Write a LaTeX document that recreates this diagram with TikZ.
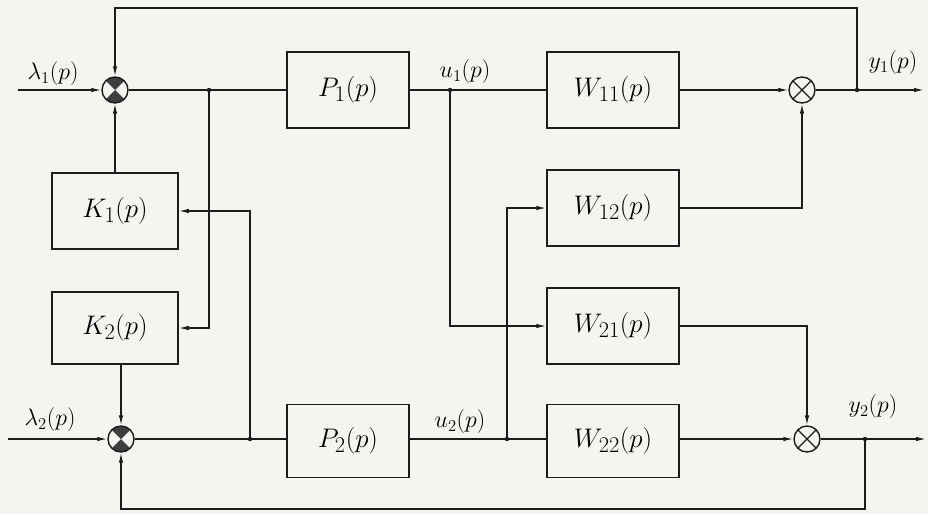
\documentclass[tikz,border=0pt]{standalone}
\usepackage{amsmath, amssymb}
\usepackage{xcolor}
\usepackage{tikz}
\usetikzlibrary{arrows.meta, calc}
\definecolor{ink}{HTML}{1C1C1C}
\definecolor{paper}{HTML}{F4F4F1}

\tikzset{
  blk/.style={draw=ink, line width=1.5pt, minimum width=126pt,
              minimum height=76pt, inner sep=0pt,
              font=\fontsize{24.88}{30}\selectfont},
  wblk/.style={blk, minimum width=132pt},
  multnode/.style={circle, draw=ink, line width=1.4pt, minimum size=26pt,
              inner sep=0pt, path picture={
      \draw[ink, line width=1.2pt]
        (path picture bounding box.north west) -- (path picture bounding box.south east)
        (path picture bounding box.south west) -- (path picture bounding box.north east);}},
  sumnode/.style={multnode, path picture={
      \fill[ink!85] (path picture bounding box.center)
        -- (path picture bounding box.north west)
        -- (path picture bounding box.north east) -- cycle;
      \fill[ink!85] (path picture bounding box.center)
        -- (path picture bounding box.south west)
        -- (path picture bounding box.south east) -- cycle;}},
  sig/.style={draw=ink, line width=1.3pt},
  arr/.style={sig, -{Latex[length=10pt, width=4.5pt]}},
  lbl/.style={inner sep=0pt, font=\fontsize{20.74}{25}\selectfont}
}

\begin{document}
\begin{tikzpicture}[x=1pt, y=-1pt]
    \fill[paper] (0,0) rectangle (928,514);
    \useasboundingbox (0,0) rectangle (928,514);

    \node[sumnode] (s1) at (115,90) {};
    \node[sumnode] (s2) at (121,439) {};
    \node[blk] (k1) at (115,211) {\scalebox{1.08}{$K_1(p)$}};
    \node[blk, minimum height=72pt] (k2) at (115,328) {\scalebox{1.08}{$K_2(p)$}};
    \node[blk, minimum width=122pt] (p1) at (348,90) {\scalebox{1.08}{$P_1(p)$}};
    \node[blk, minimum width=122pt, minimum height=73pt] (p2) at (348,441) {\scalebox{1.08}{$P_2(p)$}};
    \node[wblk] (w11) at (613,90) {\scalebox{1.08}{$W_{11}(p)$}};
    \node[wblk] (w12) at (613,208) {\scalebox{1.08}{$W_{12}(p)$}};
    \node[wblk] (w21) at (613,326) {\scalebox{1.08}{$W_{21}(p)$}};
    \node[wblk, minimum height=73pt] (w22) at (613,441) {\scalebox{1.08}{$W_{22}(p)$}};
    \node[multnode] (m1) at (802,90) {};
    \node[multnode] (m2) at (807,439) {};

    \coordinate (in1) at (18,90);
    \coordinate (in2) at (8,439);
    \coordinate (b1) at (209,90);
    \coordinate (b2) at (250,439);
    \coordinate (u1) at (450,90);
    \coordinate (u2) at (507,439);
    \coordinate (c1) at (857,90);
    \coordinate (c2) at (865,439);
    \coordinate (out1) at (924,90);
    \coordinate (out2) at (926,439);
    \coordinate (top) at (857,8);
    \coordinate (bot) at (865,509);

    \draw[arr] (in1) -- (s1);
    \draw[arr] (in2) -- (s2);
    \draw[sig] (s1) -- (p1);
    \draw[sig] (s2) -- (p2.west |- s2);
    \draw[sig] (p1) -- (w11);
    \draw[sig] (p2.east |- s2) -- (w22.west |- s2);
    \draw[arr] (b1) |- (k2);
    \draw[arr] (b2) |- (k1);
    \draw[arr] (k1) -- (s1);
    \draw[arr] (k2.south -| s2) -- (s2);
    \draw[arr] (u1) |- (w21);
    \draw[arr] (u2) |- (w12);
    \draw[arr] (w11) -- (m1);
    \draw[arr] (w22.east |- m2) -- (m2);
    \draw[arr] (w12) -| (m1);
    \draw[arr] (w21) -| (m2);
    \draw[arr] (m1) -- (out1);
    \draw[arr] (m2) -- (out2);
    \draw[arr] (c1) -- (top) -| (s1);
    \draw[arr] (c2) -- (bot) -| (s2);
    \foreach \p in {b1,b2,u1,u2,c1,c2}
        \fill[ink] (\p) circle (2.2pt);

    \node[lbl] (lam1) at (53,74) {\scalebox{1.15}{$\lambda_1(p)$}};
    \node[lbl] (lam2) at (50,420) {\scalebox{1.15}{$\lambda_2(p)$}};
    \node[lbl] (lu1) at (465,72) {\scalebox{1.15}{$u_1(p)$}};
    \node[lbl] (lu2) at (460,422) {\scalebox{1.15}{$u_2(p)$}};
    \node[lbl] (ly1) at (893,63) {\scalebox{1.15}{$y_1(p)$}};
    \node[lbl] (ly2) at (873,407) {\scalebox{1.15}{$y_2(p)$}};
\end{tikzpicture}
\end{document}
